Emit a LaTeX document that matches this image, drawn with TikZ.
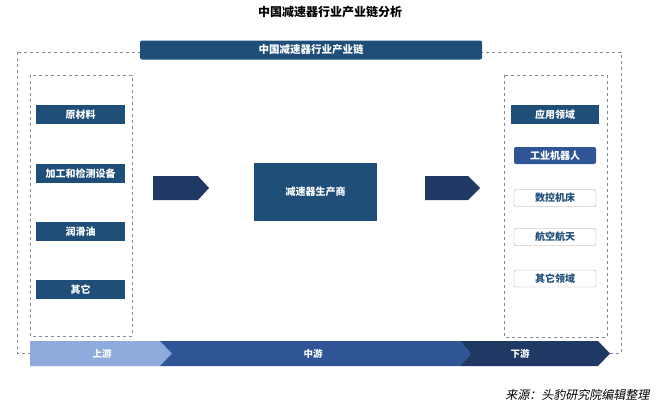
\documentclass[tikz,border=0pt]{standalone}
\usepackage{fontspec}
\setmainfont{Noto Sans CJK SC}
\newfontfamily\slantcjk[FakeSlant=0.2]{Noto Sans CJK SC}
\usepackage{tikz}
\usetikzlibrary{positioning}
\definecolor{navy}{HTML}{1F4E79}
\definecolor{deepnavy}{HTML}{203864}
\definecolor{midblue}{HTML}{2F5597}
\definecolor{lightblue}{HTML}{8FAADC}
\definecolor{dashgray}{HTML}{7F8C9F}
\definecolor{edgegray}{HTML}{A6A6A6}
\tikzstyle{dashbox} = [draw=dashgray, dashed, thin]
\tikzstyle{catbox} = [fill=navy, text=white, inner sep=0pt, minimum width=89pt, minimum height=19pt, font=\txt]
\tikzstyle{hotbox} = [fill=midblue, text=white, rounded corners=2pt, inner sep=0pt, minimum width=82pt, minimum height=17pt, font=\txt]
\tikzstyle{plainbox} = [draw=edgegray, fill=white, text=navy, rounded corners=2pt, inner sep=0pt, minimum width=82pt, minimum height=17pt, font=\txt]
\tikzstyle{bandtext} = [text=white, font=\fontsize{9.5}{11}\selectfont\bfseries]
\newcommand{\txt}{\fontsize{10}{12}\selectfont\bfseries}

\begin{document}
\begin{tikzpicture}[x=1pt, y=-1pt]
\useasboundingbox (0,0) rectangle (661,407);
\node[font=\fontsize{12}{14}\selectfont\bfseries] (title) at (330,12) {中国减速器行业产业链分析};
% frames
\draw[dashbox] (17,52) rectangle (621,353);
\draw[dashbox] (30,75) rectangle (132,336);
\draw[dashbox] (504,75) rectangle (607,337);
\node[fill=navy, text=white, rounded corners=2pt, minimum width=342pt, minimum height=19pt, inner sep=0pt, font=\fontsize{10.5}{12}\selectfont\bfseries] (chain) at (311,50) {中国减速器行业产业链};
% upstream
\node[catbox] (raw) at (80.5,114.5) {原材料};
\node[catbox] (equip) at (80.5,173.5) {加工和检测设备};
\node[catbox] (oil) at (80.5,231.5) {润滑油};
\node[catbox] (other) at (80.5,289.5) {其它};
% midstream
\fill[deepnavy] (153,176) -- (198,176) -- (209,188) -- (198,200) -- (153,200) -- cycle;
\node[catbox, minimum width=123pt, minimum height=58pt] (maker) at (315.5,192) {减速器生产商};
\fill[deepnavy] (425,176) -- (468,176) -- (480,188) -- (468,200) -- (425,200) -- cycle;
% downstream
\node[catbox, minimum width=88pt] (apply) at (555,114.5) {应用领域};
\node[hotbox] (robot) at (555,155.5) {工业机器人};
\node[plainbox] (cnc) at (555,198) {数控机床};
\node[plainbox] (aero) at (555,237) {航空航天};
\node[plainbox] (field) at (555,278.5) {其它领域};
% band
\fill[lightblue] (30,341) -- (160,341) -- (172,353.5) -- (160,366) -- (30,366) -- cycle;
\fill[midblue] (160,341) -- (460,341) -- (471,353.5) -- (460,366) -- (160,366) -- (172,353.5) -- cycle;
\fill[deepnavy] (460,341) -- (598,341) -- (610,353.5) -- (598,366) -- (460,366) -- (471,353.5) -- cycle;
\node[bandtext] (up) at (102,353.5) {上游};
\node[bandtext] (mid) at (313,353.5) {中游};
\node[bandtext] (down) at (520,353.5) {下游};
\node[anchor=east, font=\fontsize{12}{14}\selectfont\slantcjk] (source) at (653,395) {来源：头豹研究院编辑整理};
\end{tikzpicture}
\end{document}
